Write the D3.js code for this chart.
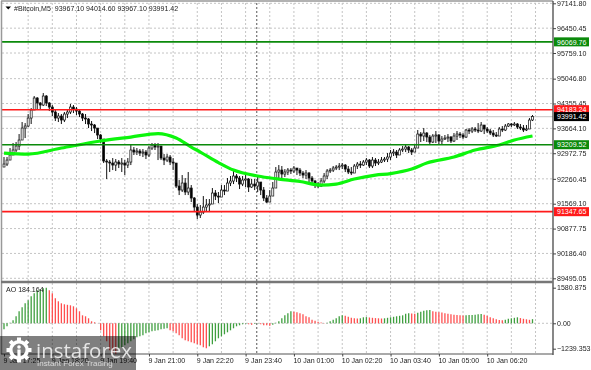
<!DOCTYPE html>
<html>
<head>
<meta charset="utf-8">
<script src="https://d3js.org/d3.v7.min.js"></script>
<style>
  html, body { margin: 0; padding: 0; background: #fff; }
  #svg { display: block; filter: blur(0.3px); }
  text { font-family: "Liberation Sans", sans-serif; font-size: 7.05px; fill: #222; }
  .axis path { display: none; }
  .axis line { stroke: #444; }
  .grid { stroke: #c4c4c4; stroke-dasharray: 2 2; stroke-width: 1; }
</style>
</head>
<body>
<svg id="svg" width="591" height="370"></svg>
<script>
const closes = [
  92672,92783,92923,93062,93173,93340,93673,93729,93951,94174,94508,94369,94313,94563,94369,94257,94118,93951,94007,93896,94063,94118,94257,94202,94146,94063,93951,93924,93785,93757,93673,93479,93367,92756,92728,
  92700,92644,92728,92672,92700,92644,92728,93062,93006,93034,92978,93006,92923,93117,93201,93145,93173,92839,92783,92867,92728,92700,92060,91949,92144,91894,92005,91727,91476,91254,91337,91476,91532,
  91560,91866,91782,91754,91949,91921,92144,92200,92339,92283,92116,92227,92255,92033,92116,92060,92172,91949,91727,91615,91782,92005,92450,92505,92394,92450,92505,92478,92561,92505,92422,92366,92422,92283,92200,92116,92060,92200,92339,92478,92505,92561,92589,92617,92644,92533,92450,92422,92617,92672,92644,92728,92783,92617,92783,92700,92728,92783,92811,
  92867,92978,93006,92923,93062,93089,93145,93062,93006,93117,93506,93451,93534,93423,93284,93451,93479,93312,93367,93395,93423,93312,93451,93506,93479,93423,93618,93590,93646,93618,93590,93757,93646,93590,93534,93479,93451,93646,93618,93729,93785,93757,93785,93701,93673,93618,93646,93896,93991.42
];
const highs = [
  92867,92867,93117,93256,93284,93506,93840,93812,94063,94230,94563,94535,94396,94647,94591,94396,94313,94174,94090,94063,94118,94202,94341,94313,94257,94174,94090,94063,93951,93868,93785,93590,93506,93367,92811,
  92783,92839,92811,92783,92839,92783,92839,93201,93145,93117,93089,93089,93062,93173,93256,93256,93256,93145,92950,92950,92923,92839,92700,92227,92366,92283,92450,92088,91754,91560,91532,91782,91699,
  91699,92005,91949,91894,92088,92088,92283,92339,92478,92394,92339,92339,92394,92283,92255,92255,92339,92144,92033,91810,91949,92172,92589,92644,92617,92533,92561,92561,92617,92561,92561,92478,92505,92450,92339,92227,92172,92283,92422,92533,92561,92617,92644,92700,92700,92672,92617,92589,92672,92728,92756,92783,92839,92811,92867,92839,92811,92867,92867,
  92978,93062,93089,93062,93117,93173,93201,93173,93117,93201,93618,93562,93673,93562,93479,93506,93590,93506,93451,93479,93506,93451,93534,93590,93562,93534,93646,93673,93701,93701,93812,93840,93757,93701,93646,93618,93562,93701,93729,93785,93812,93812,93840,93812,93785,93757,93757,93951,94035
];
const lows = [
  92589,92617,92839,92923,93006,93062,93423,93395,93701,93785,94174,94174,94174,94285,94285,94146,94007,93868,93840,93785,93840,93951,94063,94090,94035,93979,93868,93785,93673,93590,93534,93367,93256,92700,92255,
  92450,92505,92478,92561,92450,92366,92561,92644,92923,92923,92895,92867,92811,92867,93062,93062,92783,92783,92644,92728,92644,92505,92005,91810,91894,91810,91810,91615,91337,91143,91171,91282,91337,
  91337,91699,91671,91588,91782,91810,92005,92060,92116,92172,91977,92060,92033,91894,92005,91949,91894,91810,91643,91588,91699,91810,92144,92227,92283,92311,92366,92394,92422,92366,92339,92283,92255,92172,92088,92005,92005,92033,92144,92255,92422,92450,92505,92505,92533,92450,92394,92366,92450,92533,92561,92617,92644,92561,92561,92617,92644,92700,92728,
  92728,92783,92895,92839,92950,93006,93006,92978,92923,93006,93145,93284,93312,93284,93228,93256,93256,93228,93228,93340,93284,93256,93284,93340,93395,93367,93395,93506,93534,93562,93534,93562,93506,93534,93479,93423,93423,93506,93562,93590,93701,93701,93729,93646,93618,93562,93590,93646,93868
];
const maBars = [0,8,19,32,42,51,57,62,65,71,76,84,91,98,105,110,116,123,128,135,140,149,156,164,169,175];
const maValues = [92978,92950,93117,93312,93423,93520,93395,93145,93006,92714,92505,92339,92255,92186,92088,92116,92255,92366,92408,92533,92700,92867,93062,93201,93340,93451];
const aoValues = [
  -266,-133,22,133,311,533,710,888,1021,1199,1332,1465,1510,1554,1578,
  1465,1332,1110,977,888,844,821,799,755,666,533,355,311,222,89,44,4,
  -311,-577,-799,-1199,-1332,-1376,
  -1110,-1066,-977,-888,-799,-710,-622,-577,-533,-444,-400,-355,-333,-311,-266,-244,-222,
  -311,-355,-444,-533,-666,-755,-799,-844,-888,-932,-977,-1066,-1110,
  -1021,-932,-799,-666,-577,-488,-400,-311,-222,-133,-89,-44,-22,
  -44,-67,-22,13,-44,-89,-89,-111,-67,22,
  89,222,355,444,533,511,488,444,400,311,266,155,111,67,36,13,
  22,89,155,222,311,355,
  333,289,244,222,213,222,266,275,
  258,244,231,222,213,
  222,244,266,289,311,333,355,422,444,
  435,426,
  466,511,555,577,586,
  533,511,488,480,444,422,400,377,364,355,346,
  355,364,373,382,400,408,
  377,333,266,222,178,142,133,
  155,200,222,244,266,
  231,200,178,155,
  184.164
];
const priceTicks = [97141.80,96450.45,95759.10,95046.80,94355.45,93664.10,92972.75,92260.45,91569.10,90877.75,90186.40,89495.05];
const aoTicks = [1580.875,0,-1239.353];
const timeBars = [0,16,32,48,64,80,96,112,128,144,160];
const timeLabels = ["9 Jan 17:25","9 Jan 18:20","9 Jan 19:40","9 Jan 21:00","9 Jan 22:20","9 Jan 23:40","10 Jan 01:00","10 Jan 02:20","10 Jan 03:40","10 Jan 05:00","10 Jan 06:20"];
const greenLevels = [96069.76,93209.52];
const redLevels = [94183.24,91347.65];
const lastPrice = 93991.42;
const title = "#Bitcoin,M5  93967.10 94014.60 93967.10 93991.42";
const aoTitle = "AO 184.164";

const svg = d3.select("#svg"),
    left = 2,
    right = 553,
    aoBottom = 354,
    x = d3.scaleLinear().domain([0, 175]).range([4, 532.5]),
    y = d3.scaleLinear().domain([97141.8, 89495.05]).range([3.3, 278.3]),
    yAo = d3.scaleLinear().domain([1580.875, -1239.353]).range([287.7, 351.2]);

const opens = closes.map((c, i) => i ? closes[i - 1] : lows[0]);

// grid, every 8 bars and on the price ticks
const grid = svg.append("g");
grid.selectAll(".v").data(d3.range(8, 177, 8)).join("line")
    .attr("class", "grid")
    .attr("x1", d => x(d)).attr("x2", d => x(d))
    .attr("y1", 3).attr("y2", aoBottom);
grid.selectAll(".h").data(priceTicks).join("line")
    .attr("class", "grid")
    .attr("x1", left).attr("x2", right)
    .attr("y1", d => y(d)).attr("y2", d => y(d));
grid.append("line").attr("class", "grid")
    .attr("x1", left).attr("x2", right)
    .attr("y1", yAo(0)).attr("y2", yAo(0));

// day separator
svg.append("line")
    .attr("x1", x(83.7)).attr("x2", x(83.7))
    .attr("y1", 3).attr("y2", aoBottom)
    .style("stroke", "#555").style("stroke-dasharray", "2 2");

// last price line
svg.append("line")
    .attr("x1", left).attr("x2", right)
    .attr("y1", y(lastPrice)).attr("y2", y(lastPrice))
    .style("stroke", "#cfcfcf").style("stroke-width", 1.2);

// candles
const candles = svg.append("g");
candles.selectAll("line").data(closes).join("line")
    .attr("x1", (d, i) => x(i)).attr("x2", (d, i) => x(i))
    .attr("y1", (d, i) => y(highs[i])).attr("y2", (d, i) => y(lows[i]))
    .style("stroke", "#111");
candles.selectAll("rect").data(closes).join("rect")
    .attr("x", (d, i) => x(i) - 1)
    .attr("width", 2)
    .attr("y", (d, i) => y(Math.max(d, opens[i])))
    .attr("height", (d, i) => Math.max(0.8, Math.abs(y(d) - y(opens[i]))))
    .style("fill", (d, i) => d >= opens[i] ? "#fff" : "#000")
    .style("stroke", "#111").style("stroke-width", 0.7);

// moving average
const maLine = d3.line().x((d, i) => x(maBars[i])).y(d => y(d)).curve(d3.curveMonotoneX);
svg.append("path").attr("d", maLine(maValues))
    .attr("fill", "none").style("stroke", "#0cf50c").style("stroke-width", 3.2);

// level lines
svg.selectAll(".lvg").data(greenLevels).join("line")
    .attr("x1", left).attr("x2", right)
    .attr("y1", d => y(d)).attr("y2", d => y(d))
    .style("stroke", "#0b8a0b").style("stroke-width", 1.6);
svg.selectAll(".lvr").data(redLevels).join("line")
    .attr("x1", left).attr("x2", right)
    .attr("y1", d => y(d)).attr("y2", d => y(d))
    .style("stroke", "#ff1a1a").style("stroke-width", 1.6);

// AO histogram
svg.append("g").selectAll("line").data(aoValues).join("line")
    .attr("x1", (d, i) => x(i)).attr("x2", (d, i) => x(i))
    .attr("y1", yAo(0)).attr("y2", d => yAo(d))
    .style("stroke-width", 1.3)
    .style("stroke", (d, i) => (i == 0 || d > aoValues[i - 1]) ? "#3f9f3f" : "#ff4f4f");

// frame
const frame = svg.append("g").style("stroke", "#777");
frame.append("line").attr("x1", 1.5).attr("x2", 1.5).attr("y1", 1).attr("y2", aoBottom).style("stroke-width", 1.5).style("stroke", "#999");
frame.append("line").attr("x1", 1).attr("x2", right).attr("y1", 1).attr("y2", 1).style("stroke-width", 1.5).style("stroke", "#999");
frame.append("line").attr("x1", right).attr("x2", right).attr("y1", 1).attr("y2", aoBottom + 1).style("stroke-width", 1.4).style("stroke", "#555");
frame.append("line").attr("x1", 1).attr("x2", right).attr("y1", 282).attr("y2", 282).style("stroke-width", 2.6).style("stroke", "#777");
frame.append("line").attr("x1", 1).attr("x2", right).attr("y1", aoBottom).attr("y2", aoBottom).style("stroke-width", 1.2).style("stroke", "#555");

// axes
svg.append("g").attr("class", "axis")
    .attr("transform", "translate(" + right + ",0)")
    .call(d3.axisRight(y).tickValues(priceTicks).tickFormat(d3.format(".2f")).tickSize(3).tickPadding(1));
const aoAxis = svg.append("g").attr("class", "axis")
    .attr("transform", "translate(" + right + ",0)")
    .call(d3.axisRight(yAo).tickValues(aoTicks)
        .tickFormat(d => d == 0 ? "0.00" : d3.format(".3f")(d)).tickSize(3).tickPadding(1));
aoAxis.selectAll(".tick").filter(d => d < 0).attr("transform", "translate(0," + (yAo(-1239.353) - 2) + ")");
const timeAxis = svg.append("g").attr("class", "axis")
    .attr("transform", "translate(0," + aoBottom + ")")
    .call(d3.axisBottom(x).tickValues(timeBars)
        .tickFormat((d, i) => timeLabels[i]).tickSize(2.5).tickPadding(1.5));
timeAxis.selectAll("text").attr("text-anchor", "start").attr("dx", -1);

// price tags
function tag(price, fill) {
    const g = svg.append("g").attr("transform", "translate(" + (right + 1) + "," + y(price) + ")");
    g.append("rect").attr("y", -4.5).attr("width", 35).attr("height", 9).style("fill", fill);
    g.append("text").attr("x", 3).attr("y", 2.7).text(d3.format(".2f")(price)).style("fill", "#fff");
}
greenLevels.forEach(p => tag(p, "#0b8a0b"));
redLevels.forEach(p => tag(p, "#ff1a1a"));
tag(lastPrice, "#000");

// headers
svg.append("path").attr("d", "M5.5 6.5h5.5l-2.75 3z").style("fill", "#000");
svg.append("text").attr("x", 14).attr("y", 10.5).style("white-space", "pre").text(title);
svg.append("text").attr("x", 6).attr("y", 292).text(aoTitle);

// watermark
const mark = svg.append("g");
mark.append("rect").attr("x", 0).attr("y", 336).attr("width", 136).attr("height", 34)
    .style("fill", "#000").style("opacity", 0.5);
const gear = mark.append("g").attr("transform", "translate(19,350)").style("fill", "#fff");
gear.append("path").attr("d", d3.arc()({innerRadius: 6.5, outerRadius: 10, startAngle: 0, endAngle: 2 * Math.PI}));
gear.selectAll("rect").data(d3.range(0, 360, 45)).join("rect")
    .attr("x", -2).attr("y", -12.5).attr("width", 4).attr("height", 5)
    .attr("transform", d => "rotate(" + d + ")");
gear.append("circle").attr("cy", -3).attr("r", 1.8);
gear.append("rect").attr("x", -1.6).attr("y", -0.5).attr("width", 3.2).attr("height", 8);
mark.append("text").attr("x", 36).attr("y", 358).text("instaforex")
    .style("fill", "#fff").style("font-family", "'Open Sans', sans-serif").style("font-size", "20.5px").style("opacity", 0.8);
mark.append("text").attr("x", 37).attr("y", 366).text("Instant Forex Trading")
    .style("fill", "#eee").style("font-size", "8px").style("opacity", 0.8);
</script>
</body>
</html>
